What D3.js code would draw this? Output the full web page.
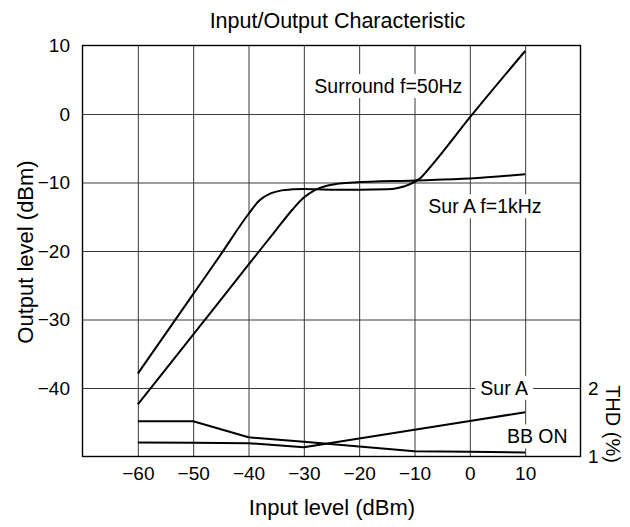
<!DOCTYPE html>
<html>
<head>
<meta charset="utf-8">
<script src="https://cdn.jsdelivr.net/npm/d3@7"></script>
<style>
  body { margin: 0; background: #fff; }
  text { font-family: "Liberation Sans", Arial, sans-serif; fill: #000; }
</style>
</head>
<body>
<div id="chart"></div>
<script>
// Output level (dBm) vs input level (dBm)
var surroundIn  = [-60, -55, -50, -45, -40, -38, -36, -34, -32, -30, -25, -20, -15, -13, -11, -9, -7, 0, 10];
var surroundOut = [-37.9, -32.1, -26.3, -20.5, -14.6, -12.6, -11.6, -11.15, -11.0, -10.95, -11.05, -11.05, -11.0, -10.8, -10.3, -9.4, -7.6, -0.5, 9.2];

var surAIn  = [-60, -50, -40, -35, -32, -30, -28, -26, -24, -21, -10, 0, 10];
var surAOut = [-42.4, -32.2, -22.0, -16.9, -13.9, -12.2, -11.1, -10.5, -10.2, -10.0, -9.7, -9.4, -8.8];

// THD (%) curves, right axis
var thdIn    = [-60, -50, -40, -30, -20, -10, 0, 10];
var thdSurA  = [1.204, 1.199, 1.194, 1.136, 1.263, 1.392, 1.519, 1.646];
var thdBBOn  = [1.515, 1.515, 1.28, 1.214, 1.146, 1.078, 1.07, 1.058];

var xTicks = [-60, -50, -40, -30, -20, -10, 0, 10];
var yTicks = [10, 0, -10, -20, -30, -40];
var yGrid = [0, -10, -20, -30, -40];
var thdTicks = [1, 2];

// chart size
var W = 630, H = 527;
var pLeft = 82.5, pRight = 580.5, pTop = 45.5, pBottom = 456.5;

var svg = d3.select("#chart").append("svg")
  .attr("width", W)
  .attr("height", H);

var x = d3.scaleLinear().domain([-70, 20]).range([pLeft, pRight]);
var y = d3.scaleLinear().domain([-50, 10]).range([pBottom, pTop]);
var yThd = d3.scaleLinear().domain([1, 2]).range([pBottom, y(-40)]);

// grid lines
svg.append("g")
  .attr("transform", "translate(0," + pBottom + ")")
  .call(d3.axisBottom(x).tickValues(xTicks).tickSize(-(pBottom - pTop)).tickFormat(""))
  .call(function (g) {
    g.select(".domain").remove();
    g.selectAll("line").attr("stroke", "#3a3a3a").attr("stroke-width", 1);
  });

svg.append("g")
  .attr("transform", "translate(" + pLeft + ",0)")
  .call(d3.axisLeft(y).tickValues(yGrid).tickSize(-(pRight - pLeft)).tickFormat(""))
  .call(function (g) {
    g.select(".domain").remove();
    g.selectAll("line").attr("stroke", "#3a3a3a").attr("stroke-width", 1);
  });

// tick labels
svg.append("g")
  .attr("transform", "translate(0," + pBottom + ")")
  .call(d3.axisBottom(x).tickValues(xTicks).tickSize(0).tickPadding(10.5))
  .call(function (g) {
    g.select(".domain").remove();
    g.selectAll("text").attr("font-size", 19).attr("font-family", null);
  });

svg.append("g")
  .attr("transform", "translate(" + pLeft + ",0)")
  .call(d3.axisLeft(y).tickValues(yTicks).tickSize(0).tickPadding(12.5))
  .call(function (g) {
    g.select(".domain").remove();
    g.selectAll("text").attr("font-size", 19).attr("font-family", null);
  });

svg.append("g")
  .attr("transform", "translate(" + pRight + ",0)")
  .call(d3.axisRight(yThd).tickValues(thdTicks).tickSize(0).tickPadding(7.5).tickFormat(d3.format("d")))
  .call(function (g) {
    g.select(".domain").remove();
    g.selectAll("text").attr("font-size", 19).attr("font-family", null);
  });

// curve labels with white boxes
var labels = [
  { text: "Surround f=50Hz", x: -28.1, y: y(4.05) },
  { text: "Sur A f=1kHz", x: -7.5, y: y(-13.5) },
  { text: "Sur A", x: 1.9, y: y(-40) },
  { text: "BB ON", x: 6.7, y: yThd(1.29) }
];

var lab = svg.append("g").selectAll("g").data(labels).join("g");
lab.append("text")
  .attr("x", function (d) { return x(d.x); })
  .attr("y", function (d) { return d.y; })
  .attr("dy", "0.35em")
  .attr("font-size", 19.5)
  .text(function (d) { return d.text; });
lab.each(function () {
  var g = d3.select(this);
  var b = g.select("text").node().getBBox();
  g.insert("rect", "text")
    .attr("x", b.x - 5)
    .attr("y", b.y - 1)
    .attr("width", b.width + 10)
    .attr("height", b.height + 2)
    .attr("fill", "#fff");
});

// curves
var line = d3.line()
  .x(function (d) { return x(d[0]); })
  .y(function (d) { return d[1]; })
  .curve(d3.curveMonotoneX);

var lineThd = d3.line()
  .x(function (d) { return x(d[0]); })
  .y(function (d) { return d[1]; });

var curves = [
  { gen: line, pts: d3.zip(surroundIn, surroundOut.map(function (v) { return y(v); })) },
  { gen: line, pts: d3.zip(surAIn, surAOut.map(function (v) { return y(v); })) },
  { gen: lineThd, pts: d3.zip(thdIn, thdSurA.map(function (v) { return yThd(v); })) },
  { gen: lineThd, pts: d3.zip(thdIn, thdBBOn.map(function (v) { return yThd(v); })) }
];

svg.append("g").selectAll("path").data(curves).join("path")
  .attr("fill", "none")
  .attr("stroke", "#000")
  .attr("stroke-width", 2)
  .attr("stroke-linejoin", "round")
  .attr("d", function (d) { return d.gen(d.pts); });

// frame
svg.append("rect")
  .attr("x", pLeft)
  .attr("y", pTop)
  .attr("width", pRight - pLeft)
  .attr("height", pBottom - pTop)
  .attr("fill", "none")
  .attr("stroke", "#000")
  .attr("stroke-width", 1.4);

// titles
svg.append("text")
  .attr("x", 337.5)
  .attr("y", 28)
  .attr("text-anchor", "middle")
  .attr("font-size", 21.5)
  .text("Input/Output Characteristic");

svg.append("text")
  .attr("x", 332)
  .attr("y", 515)
  .attr("text-anchor", "middle")
  .attr("font-size", 22)
  .text("Input level (dBm)");

svg.append("text")
  .attr("transform", "translate(33," + 252 + ") rotate(-90)")
  .attr("text-anchor", "middle")
  .attr("font-size", 22)
  .text("Output level (dBm)");

svg.append("text")
  .attr("transform", "translate(606," + 424 + ") rotate(90)")
  .attr("text-anchor", "middle")
  .attr("font-size", 20)
  .text("THD (%)");
</script>
</body>
</html>
